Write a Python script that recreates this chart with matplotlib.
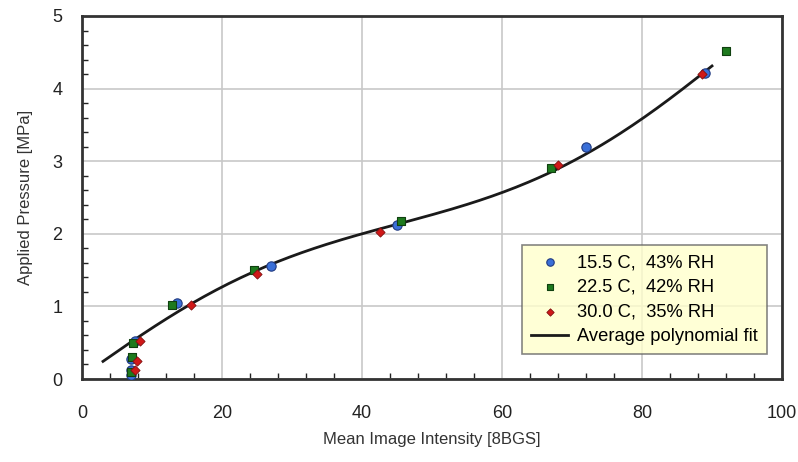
import matplotlib
matplotlib.use("Agg")
import matplotlib.pyplot as plt
from matplotlib.ticker import MultipleLocator
import numpy as np

plt.rcParams['font.family'] = ['Liberation Sans', 'DejaVu Sans']

blue_x = [7.0, 7.0, 7.0, 7.5, 13.5, 27.0, 45.0, 72.0, 89.0]
blue_y = [0.05, 0.12, 0.28, 0.52, 1.05, 1.55, 2.12, 3.20, 4.22]
green_x = [7.0, 7.2, 7.3, 12.8, 24.5, 45.5, 67.0, 92.0]
green_y = [0.10, 0.30, 0.50, 1.02, 1.50, 2.17, 2.90, 4.52]
red_x = [7.5, 7.8, 8.3, 15.5, 25.0, 42.5, 68.0, 88.5]
red_y = [0.12, 0.25, 0.53, 1.02, 1.45, 2.02, 2.95, 4.20]

fit_x = [3, 8, 15, 20, 27, 34, 40, 46, 55, 60, 67, 75, 80, 85, 90]
fit_y = [0.25, 0.56, 1.00, 1.28, 1.58, 1.82, 2.00, 2.16, 2.40, 2.56, 2.86, 3.28, 3.58, 3.92, 4.32]

labels = ['15.5 C,  43% RH', '22.5 C,  42% RH', '30.0 C,  35% RH', 'Average polynomial fit']

fig = plt.figure(figsize=(7.98, 4.62), dpi=100)
ax = fig.add_axes([82/798, 1 - 379/462, 700/798, 363/462])

# smooth curve through read-off points
coef = np.polyfit(fit_x, fit_y, 5)
xs = np.linspace(fit_x[0], fit_x[-1], 200)
ln, = ax.plot(xs, np.polyval(coef, xs), color='#1a1a1a', lw=2, zorder=2)

sb = ax.scatter(blue_x, blue_y, marker='o', s=45, c='#3a6fd8', edgecolors='#203a80', linewidths=0.8, zorder=3)
sg = ax.scatter(green_x, green_y, marker='s', s=38, c='#1e7a1e', edgecolors='#104010', linewidths=0.8, zorder=3)
sr = ax.scatter(red_x, red_y, marker='D', s=22, c='#d01818', edgecolors='#801010', linewidths=0.6, zorder=4)

ax.set_xlim(0, 100)
ax.set_ylim(0, 5)
ax.xaxis.set_major_locator(MultipleLocator(20))
ax.xaxis.set_minor_locator(MultipleLocator(4))
ax.yaxis.set_major_locator(MultipleLocator(1))
ax.yaxis.set_minor_locator(MultipleLocator(0.2))
ax.tick_params(which='both', direction='in', top=False, right=False, labelsize=13, colors='#222222')
ax.tick_params(which='major', length=0)
ax.tick_params(axis='x', which='major', pad=19)
ax.tick_params(axis='y', which='major', pad=14)
ax.tick_params(which='minor', length=4, width=1)
ax.grid(True, which='major', color='#c8c8c8', lw=1.2)
for s in ax.spines.values():
    s.set_color('#333333')
    s.set_linewidth(2)

ax.set_xlabel('Mean Image Intensity [8BGS]', fontsize=12, color='#333333', labelpad=7)
ax.set_ylabel('Applied Pressure [MPa]', fontsize=12, color='#333333', labelpad=14)

leg = ax.legend([sb, sg, sr, ln], labels, loc='upper left', bbox_to_anchor=(440/700, 1 - (245-16)/363),
                borderaxespad=0,
                fontsize=13.2, frameon=True, fancybox=False, facecolor='#ffffcc', edgecolor='#666666',
                handlelength=2.0, handletextpad=0.5, borderpad=0.5, labelspacing=0.42, markerscale=0.8)
leg.get_frame().set_linewidth(1.2)

fig.savefig('out.png', dpi=100)
